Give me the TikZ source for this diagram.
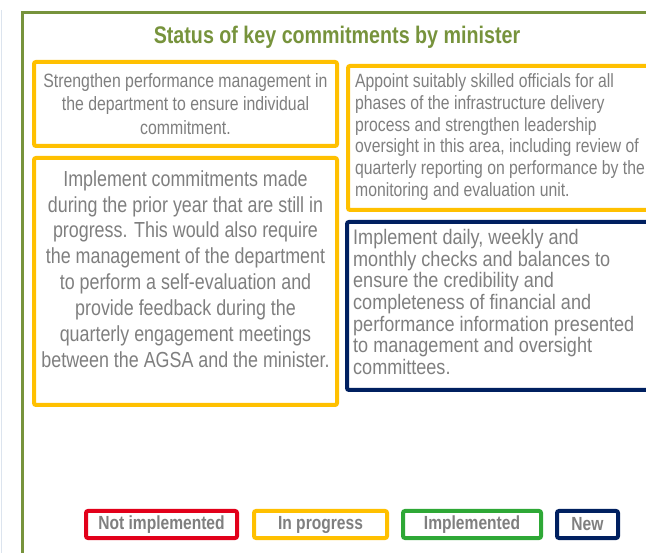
\documentclass[tikz,border=0pt]{standalone}
\usepackage{fontspec}
\setmainfont{Liberation Sans}[FakeStretch=0.82]
\newfontfamily\dfont{Liberation Sans}[FakeStretch=0.86]
\definecolor{frameg}{HTML}{77933C}
\definecolor{yel}{HTML}{FFC000}
\definecolor{navy}{HTML}{002060}
\definecolor{redc}{HTML}{E2001A}
\definecolor{greenc}{HTML}{2EA836}
\definecolor{txtg}{HTML}{7F7F7F}
\definecolor{edgeblue}{HTML}{DCE4EE}
\tikzset{
  cbox/.style={draw, line width=4pt, rounded corners=2pt, inner sep=0pt, fill=white},
  ybox/.style={cbox, draw=yel},
  nbox/.style={cbox, draw=navy},
  btext/.style={text=txtg, inner sep=0pt},
  legbox/.style={cbox, minimum height=27pt, font=\bfseries\fontsize{19}{21}\selectfont, text=txtg},
}
\begin{document}
\begin{tikzpicture}[x=1pt,y=-1pt]
\useasboundingbox (0,0) rectangle (646,553);
\clip (0,0) rectangle (646,553);
% faint left edge
\draw[edgeblue, line width=1.5pt] (1.5,10) -- (1.5,553);
% outer green frame
\node[draw=frameg, line width=3pt, inner sep=0pt, minimum width=680pt, minimum height=600pt, anchor=north west] (frame) at (21,11.5) {};
% title
\node[font=\bfseries\fontsize{24}{28}\selectfont, text=frameg] (title) at (337,37) {Status of key commitments by minister};
% boxes
\node[ybox, minimum width=303pt, minimum height=84pt] (boxA) at (185.5,104) {};
\node[ybox, minimum width=303pt, minimum height=247pt] (boxB) at (185.5,281.5) {};
\node[ybox, minimum width=340pt, minimum height=144pt, anchor=north west] (boxC) at (346,64) {};
\node[nbox, minimum width=340pt, minimum height=168pt, anchor=north west] (boxD) at (345,220) {};
% texts
\node[btext, align=center, font=\fontsize{19.3}{23.3}\selectfont] (tA) at (185.5,104) {Strengthen performance management in\\the department to ensure individual\\commitment.};
\node[btext, align=center, font=\fontsize{21.8}{25.9}\selectfont] (tB) at (185.5,269) {Implement commitments made\\during the prior year that are still in\\progress. This would also require\\the management of the department\\to perform a self-evaluation and\\provide feedback during the\\quarterly engagement meetings\\between the AGSA and the minister.};
\node[btext, align=left, font=\fontsize{19.2}{21.7}\selectfont, anchor=west] (tC) at (355,137) {Appoint suitably skilled officials for all\\phases of the infrastructure delivery\\process and strengthen leadership\\oversight in this area, including review of\\quarterly reporting on performance by the\\monitoring and evaluation unit.};
\node[btext, align=left, font=\dfont\fontsize{21}{21.7}\selectfont, anchor=west] (tD) at (353,302) {Implement daily, weekly and\\monthly checks and balances to\\ensure the credibility and\\completeness of financial and\\performance information presented\\to management and oversight\\committees.};
% legend
\node[legbox, draw=redc, minimum width=151pt] (lNI) at (161.5,524.5) {Not implemented};
\node[legbox, draw=yel, minimum width=133pt] (lIP) at (320.5,524.5) {In progress};
\node[legbox, draw=greenc, minimum width=138pt] (lIM) at (472,524.5) {Implemented};
\node[legbox, draw=navy, minimum width=61pt] (lNW) at (587.5,524.5) {New};
\end{tikzpicture}
\end{document}
